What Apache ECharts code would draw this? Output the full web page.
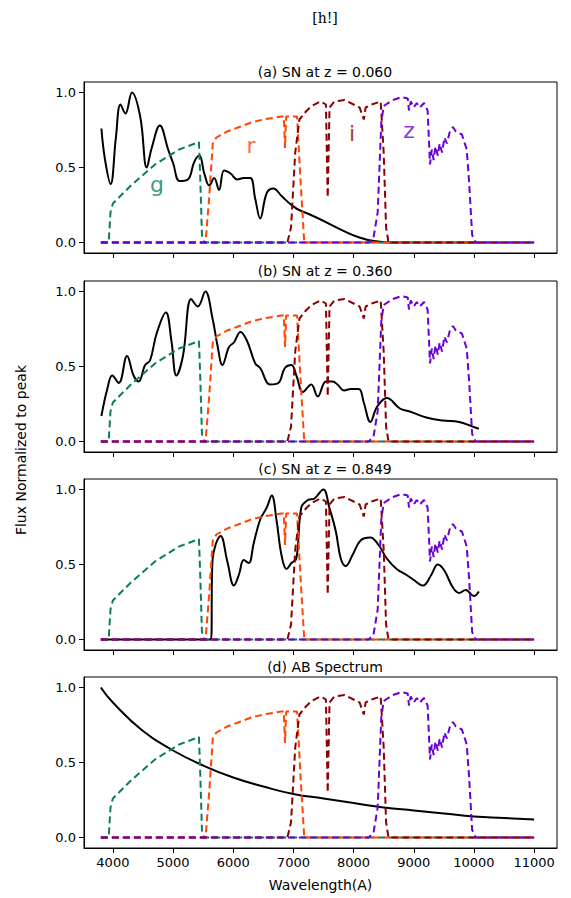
<!DOCTYPE html>
<html>
<head>
<meta charset="utf-8">
<script src="https://cdn.jsdelivr.net/npm/echarts@6/dist/echarts.min.js"></script>
<style>
  html, body { margin: 0; padding: 0; background: #fff; }
  #chart { width: 571px; height: 898px; }
</style>
</head>
<body>
<div id="chart"></div>
<script>
// filter transmission curves, [wavelength, normalised throughput]
const gFilter = [[3800,0],[3930,0],[3960,0.2],[4000,0.26],[4100,0.3],[4300,0.38],[4500,0.45],[4700,0.52],[4900,0.57],[5100,0.62],[5300,0.65],[5430,0.67],[5450,0.45],[5480,0.05],[5520,0],[11000,0]]
const rFilter = [[3800,0],[5540,0],[5600,0.3],[5660,0.66],[5720,0.7],[5900,0.74],[6100,0.77],[6300,0.8],[6500,0.82],[6800,0.84],[6840,0.84],[6860,0.63],[6880,0.84],[7060,0.84],[7120,0.4],[7180,0],[11000,0]]
const iFilter = [[3800,0],[6900,0],[6960,0.1],[7030,0.6],[7100,0.82],[7200,0.87],[7300,0.91],[7450,0.94],[7540,0.92],[7570,0.3],[7600,0.9],[7680,0.94],[7850,0.95],[8000,0.92],[8100,0.9],[8170,0.82],[8200,0.9],[8300,0.92],[8450,0.94],[8500,0.6],[8540,0.1],[8580,0],[11000,0]]
const zFilter = [[3800,0],[8250,0],[8330,0.03],[8400,0.2],[8460,0.8],[8500,0.91],[8650,0.95],[8800,0.97],[8900,0.96],[8920,0.88],[8950,0.94],[9000,0.9],[9050,0.93],[9100,0.9],[9170,0.93],[9230,0.88],[9270,0.52],[9300,0.62],[9330,0.55],[9360,0.64],[9400,0.58],[9430,0.66],[9470,0.6],[9510,0.7],[9550,0.66],[9600,0.74],[9650,0.77],[9700,0.74],[9800,0.72],[9880,0.62],[9920,0.4],[9970,0.05],[10030,0],[11000,0]]

// spectra, [wavelength, flux normalised to peak]
const snA = [[3809,0.76],[3870,0.55],[3962,0.39],[4050,0.7],[4126,0.92],[4208,0.86],[4317,1.0],[4454,0.84],[4563,0.5],[4645,0.63],[4781,0.78],[4918,0.62],[5000,0.53],[5109,0.41],[5246,0.42],[5355,0.54],[5437,0.58],[5519,0.46],[5601,0.38],[5683,0.43],[5765,0.35],[5847,0.48],[5956,0.46],[6066,0.42],[6175,0.43],[6284,0.43],[6366,0.29],[6448,0.16],[6557,0.33],[6667,0.36],[6803,0.31],[6967,0.25],[7131,0.21],[8607,0],[10100,0]]
const snB = [[3809,0.17],[3907,0.35],[3989,0.44],[4098,0.39],[4235,0.57],[4344,0.44],[4426,0.4],[4536,0.51],[4617,0.54],[4727,0.72],[4880,0.86],[4973,0.67],[5055,0.44],[5164,0.57],[5301,0.95],[5410,0.9],[5536,1.0],[5656,0.82],[5738,0.64],[5820,0.51],[5929,0.63],[6011,0.66],[6120,0.73],[6230,0.67],[6366,0.52],[6448,0.49],[6612,0.38],[6749,0.39],[6858,0.49],[6967,0.51],[7049,0.44],[7158,0.33],[7295,0.38],[7404,0.3],[7541,0.4],[7650,0.4],[7732,0.38],[7842,0.34],[7951,0.35],[8087,0.35],[8169,0.26],[8279,0.13],[8388,0.23],[8552,0.29],[8770,0.22],[8934,0.2],[9208,0.16],[9481,0.14],[9754,0.13],[9973,0.1],[10082,0.085]]
const snC = [[3800,0],[5628,0],[5656,0.53],[5792,0.69],[5902,0.52],[6011,0.36],[6093,0.43],[6175,0.53],[6257,0.51],[6339,0.64],[6448,0.8],[6557,0.88],[6639,0.96],[6721,0.79],[6803,0.56],[6885,0.47],[6967,0.51],[7049,0.54],[7131,0.88],[7240,0.93],[7350,0.94],[7497,1.0],[7596,0.88],[7705,0.72],[7787,0.54],[7869,0.49],[7978,0.56],[8115,0.66],[8279,0.68],[8415,0.63],[8552,0.54],[8716,0.47],[8880,0.43],[8989,0.4],[9153,0.36],[9290,0.43],[9399,0.5],[9508,0.46],[9645,0.35],[9754,0.31],[9863,0.33],[10000,0.29],[10082,0.32]]
const abSpec = [[3800,1.0],[4000,0.9],[4500,0.71],[5000,0.58],[5500,0.48],[6000,0.4],[6500,0.34],[7000,0.29],[7500,0.26],[8000,0.23],[8500,0.2],[9000,0.18],[9500,0.16],[10000,0.14],[10500,0.13],[11000,0.12]]

const panelTitles = ["(a) SN at z = 0.060", "(b) SN at z = 0.360", "(c) SN at z = 0.849", "(d) AB Spectrum"]
const spectra = [snA, snB, snC, abSpec]
const filterNames = ["g", "r", "i", "z"]
const filterLabelPos = [[4732,0.39],[6295,0.65],[7974,0.73],[8922,0.75]]
const xTicks = [4000,5000,6000,7000,8000,9000,10000,11000]
const yTicks = [0, 0.5, 1]

const filters = [gFilter, rFilter, iFilter, zFilter]
const filterColors = ["#0b7d5f", "#ff4500", "#8b0000", "#6a00d4"]
const tops = [82, 281, 479, 677]
const font = "DejaVu Sans"

const chart = echarts.init(document.getElementById("chart"), null, { renderer: "svg" })

const grids = [], xAxes = [], yAxes = [], series = [], titles = []
tops.forEach((top, k) => {
  grids.push({ left: 84, width: 473, top: top, height: 171 })
  titles.push({ text: panelTitles[k], left: 320, top: top - 22, textAlign: "center",
    textStyle: { fontFamily: font, fontSize: 14, fontWeight: "normal", color: "#000" } })
  xAxes.push({
    type: "value", gridIndex: k, min: 3520, max: 11380,
    axisLine: { onZero: false, lineStyle: { color: "#000", width: 1 } },
    axisTick: { customValues: xTicks, length: 5, lineStyle: { color: "#000" } },
    axisLabel: { show: k === 3, customValues: xTicks, formatter: (v) => String(v), color: "#000", fontFamily: font, fontSize: 13 },
    splitLine: { show: false },
    name: k === 3 ? "Wavelength(A)" : "", nameLocation: "middle", nameGap: 30,
    nameTextStyle: { color: "#000", fontFamily: font, fontSize: 14 }
  })
  yAxes.push({
    type: "value", gridIndex: k, min: -0.07, max: 1.07,
    axisLine: { show: true, lineStyle: { color: "#000", width: 1 } },
    axisTick: { show: true, customValues: yTicks, length: 5, lineStyle: { color: "#000" } },
    axisLabel: { customValues: yTicks, formatter: (v) => v.toFixed(1), color: "#000", fontFamily: font, fontSize: 13 },
    splitLine: { show: false }
  })
  series.push({
    type: "line", xAxisIndex: k, yAxisIndex: k, data: spectra[k], smooth: k === 3 ? true : 0.4,
    showSymbol: false, lineStyle: { color: "#000", width: 2 }, z: 3
  })
  filters.forEach((f, j) => {
    series.push({
      type: "line", xAxisIndex: k, yAxisIndex: k, data: f, showSymbol: false,
      lineStyle: { color: filterColors[j], width: 2, type: [7, 4] }, z: 4 + j
    })
  })
})

// filter name labels in the first panel
series.push({
  type: "scatter", xAxisIndex: 0, yAxisIndex: 0, symbolSize: 0, z: 10,
  data: filterLabelPos.map((p, j) => ({
    value: p,
    label: { show: true, position: "inside", formatter: filterNames[j], color: filterColors[j], fontFamily: font, fontSize: 22 }
  }))
})

chart.setOption({
  animation: false,
  title: titles.concat([{ text: "[h!]", left: 320, top: 6, textAlign: "center",
    textStyle: { fontFamily: "DejaVu Serif", fontSize: 14, fontWeight: "normal", color: "#000" } }]),
  grid: grids.map((g) => Object.assign({ show: true, borderColor: "#000", borderWidth: 1, backgroundColor: "transparent" }, g)),
  xAxis: xAxes,
  yAxis: yAxes,
  series: series,
  graphic: [{
    type: "text", left: 14, top: 365, rotation: Math.PI / 2,
    style: { text: "Flux Normalized to peak", fontFamily: font, fontSize: 14, fill: "#000" }
  }]
})
</script>
</body>
</html>
